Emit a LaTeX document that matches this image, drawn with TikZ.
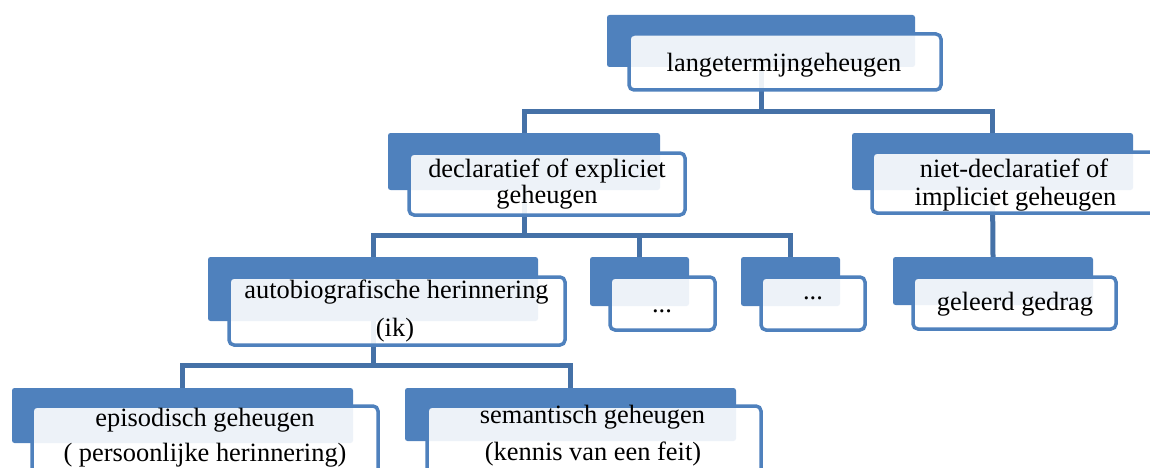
\documentclass[tikz,border=0pt]{standalone}
\usepackage{fontspec}
\newfontfamily\tnr{LiberationSerif}[Extension=.ttf, UprightFont=*-Regular]
\usetikzlibrary{backgrounds}
\definecolor{accent}{HTML}{4F81BD}
\definecolor{connc}{HTML}{4571A7}
\tikzset{
  backbox/.style={fill=accent, draw=none, rounded corners=2.5pt, inner sep=0pt},
  frontbox/.style={draw=accent, line width=3.5pt, rounded corners=5pt, fill=white, fill opacity=0.9, draw opacity=1, inner sep=0pt},
  conn/.style={draw=connc, line width=5pt},
  lbl/.style={anchor=base, inner sep=0pt, font=\tnr\fontsize{26.4}{30}\selectfont, text=black}
}
\begin{document}
\begin{tikzpicture}[x=1pt,y=-1pt]
\useasboundingbox (0,0) rectangle (1150,468);
% back boxes
\node[backbox, minimum width=308, minimum height=52] (b1) at (761,41) {};
\node[backbox, minimum width=272, minimum height=57] (b2) at (524,161.5) {};
\node[backbox, minimum width=281, minimum height=57] (b3) at (992.5,161.5) {};
\node[backbox, minimum width=330, minimum height=64] (b4) at (373,289) {};
\node[backbox, minimum width=99, minimum height=49] (b5) at (639.5,281.5) {};
\node[backbox, minimum width=99, minimum height=49] (b6) at (790.5,281.5) {};
\node[backbox, minimum width=200, minimum height=48] (b7) at (993,281) {};
\node[backbox, minimum width=341, minimum height=55] (b8) at (182.5,415.5) {};
\node[backbox, minimum width=331, minimum height=53] (b9) at (570.5,414.5) {};
% connectors
\coordinate (h1) at (0,112);
\coordinate (h2) at (0,235);
\coordinate (h3) at (0,365);
\begin{scope}[on background layer]
\draw[conn] (b1.south) -- (b1.south |- h1);
\draw[conn] (b2.north) -- (b2.north |- h1) -- (b3.north |- h1) -- (b3.north);
\draw[conn] (b2.south) -- (b2.south |- h2);
\draw[conn] (b4.north) -- (b4.north |- h2) -- (b6.north |- h2) -- (b6.north);
\draw[conn] (b5.north) -- (b5.north |- h2);
\draw[conn] (b3.south) -- (b7.north);
\draw[conn] (b4.south) -- (b4.south |- h3);
\draw[conn] (b8.north) -- (b8.north |- h3) -- (b9.north |- h3) -- (b9.north);
\end{scope}
% front boxes
\node[frontbox, minimum width=312, minimum height=56] (f1) at (785,62) {};
\node[frontbox, minimum width=276, minimum height=62] (f2) at (547,184) {};
\node[frontbox, minimum width=288, minimum height=61] (f3) at (1016,182.5) {};
\node[frontbox, minimum width=336, minimum height=68] (f4) at (397,311) {};
\node[frontbox, minimum width=105, minimum height=53] (f5) at (662.5,303.5) {};
\node[frontbox, minimum width=104, minimum height=53] (f6) at (813,303.5) {};
\node[frontbox, minimum width=203, minimum height=52] (f7) at (1014.5,303) {};
\node[frontbox, minimum width=346, minimum height=70] (f8) at (205,441) {};
\node[frontbox, minimum width=334, minimum height=70] (f9) at (594,441) {};
% texts
\node[lbl] (t1) at (784,72) {langetermijngeheugen};
\node[lbl] (t2a) at (547,177) {declaratief of expliciet};
\node[lbl] (t2b) at (547,203.5) {geheugen};
\node[lbl] (t3a) at (1014,177) {niet-declaratief of};
\node[lbl] (t3b) at (1015.5,205) {impliciet geheugen};
\node[lbl] (t4a) at (396.5,298) {autobiografische herinnering};
\node[lbl] (t4b) at (395,336.5) {(ik)};
\node[lbl] (t5) at (662,312) {...};
\node[lbl] (t6) at (813,299) {...};
\node[lbl] (t7) at (1015,310) {geleerd gedrag};
\node[lbl] (t8a) at (205,426.5) {episodisch geheugen};
\node[lbl] (t8b) at (205,461.5) {( persoonlijke herinnering)};
\node[lbl] (t9a) at (592.5,423.5) {semantisch geheugen};
\node[lbl] (t9b) at (593,460) {(kennis van een feit)};
\end{tikzpicture}
\end{document}
